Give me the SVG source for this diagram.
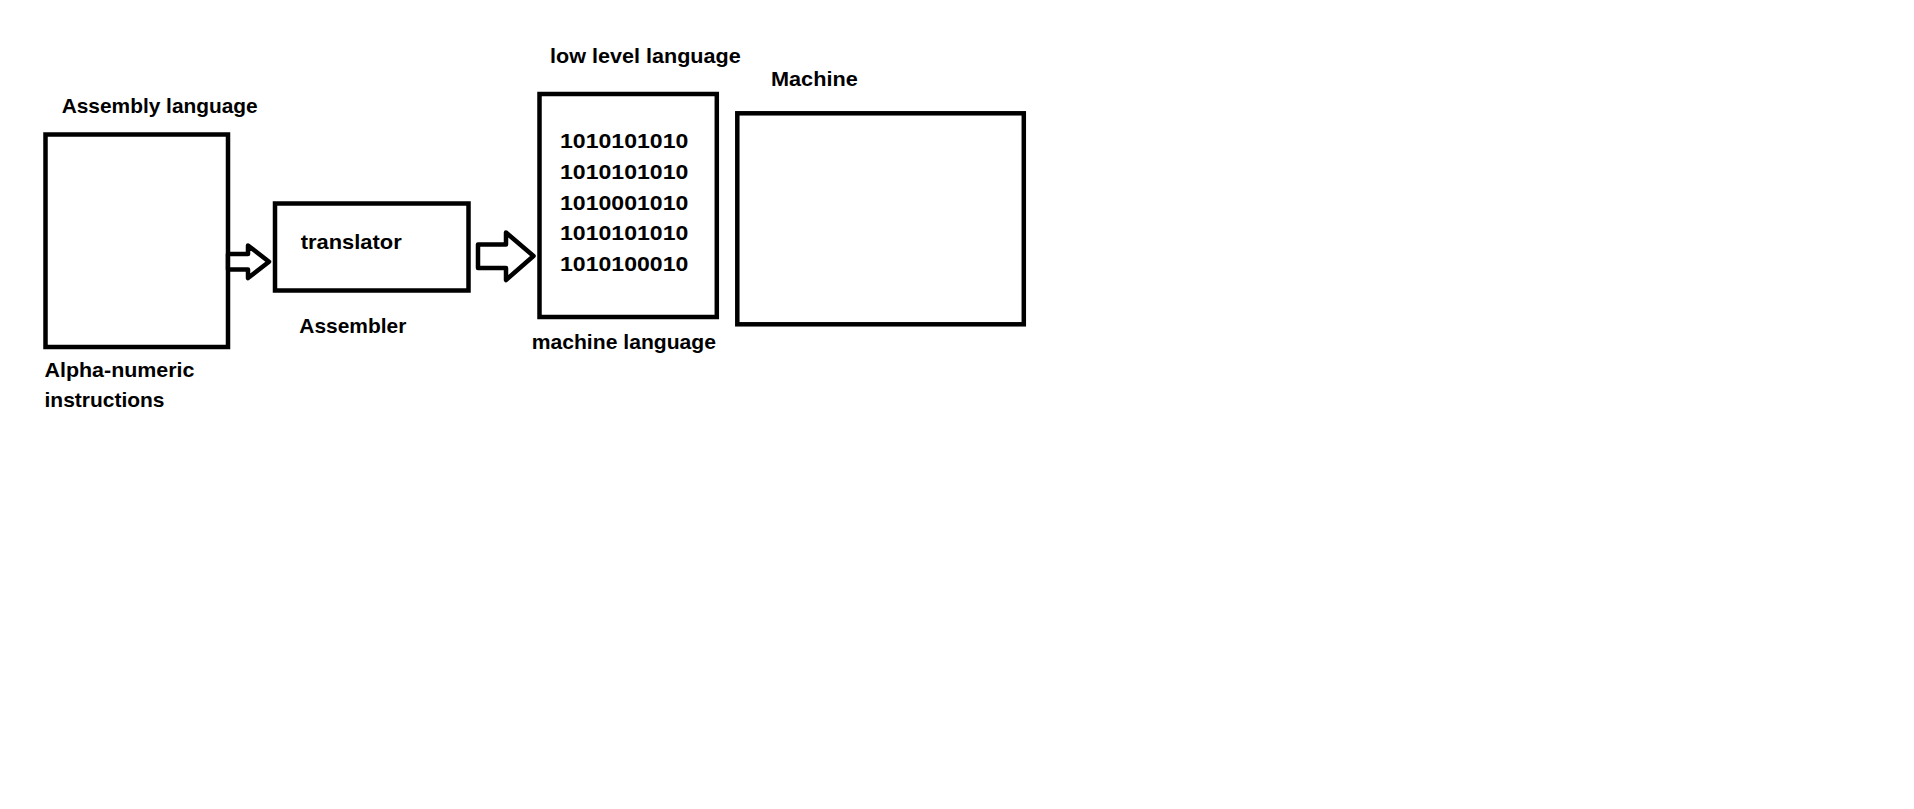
<svg xmlns="http://www.w3.org/2000/svg" width="1914" height="809" viewBox="0 0 1914 809">
<style>
.box{fill:none;stroke:#000;stroke-width:4.5}
.arr{fill:#fff;stroke:#000;stroke-width:4.5;stroke-linejoin:round}
text{font-family:"Liberation Sans",Arial,sans-serif;font-weight:bold;font-size:21px;fill:#000}
</style>
<rect width="1914" height="809" fill="#fff"/>
<g id="assembly">
<rect class="box" x="45.5" y="134.5" width="182.5" height="212.5"/>
<text x="61.7" y="113.3" textLength="196" lengthAdjust="spacingAndGlyphs">Assembly language</text>
<text x="44.5" y="376.7" textLength="150" lengthAdjust="spacingAndGlyphs">Alpha-numeric</text>
<text x="44.5" y="407.3" textLength="120" lengthAdjust="spacingAndGlyphs">instructions</text>
</g>
<g id="translator">
<rect class="box" x="275" y="203.5" width="193.5" height="87"/>
<text x="300.7" y="249.3" textLength="101" lengthAdjust="spacingAndGlyphs">translator</text>
<text x="299.3" y="332.7" textLength="107" lengthAdjust="spacingAndGlyphs">Assembler</text>
</g>
<g id="machine-language">
<rect class="box" x="539.5" y="94" width="177.3" height="223"/>
<text x="550" y="63.3" textLength="190.7" lengthAdjust="spacingAndGlyphs">low level language</text>
<text x="560" y="148.3" textLength="128.3" lengthAdjust="spacingAndGlyphs">1010101010</text>
<text x="560" y="179" textLength="128.3" lengthAdjust="spacingAndGlyphs">1010101010</text>
<text x="560" y="209.7" textLength="128.3" lengthAdjust="spacingAndGlyphs">1010001010</text>
<text x="560" y="240.3" textLength="128.3" lengthAdjust="spacingAndGlyphs">1010101010</text>
<text x="560" y="271" textLength="128.3" lengthAdjust="spacingAndGlyphs">1010100010</text>
<text x="531.7" y="349.3" textLength="184.3" lengthAdjust="spacingAndGlyphs">machine language</text>
</g>
<g id="machine">
<rect class="box" x="737.3" y="113.3" width="286.5" height="211"/>
<text x="771" y="86" textLength="86.7" lengthAdjust="spacingAndGlyphs">Machine</text>
</g>
<g id="connectors">
<polygon class="arr" points="228,254 248,254 248,245.5 269,261.7 248,278 248,269.5 228,269.5"/>
<polygon class="arr" points="478,244.5 506,244.5 506,232.5 533.5,256 506,280 506,268 478,268"/>
</g>
</svg>
